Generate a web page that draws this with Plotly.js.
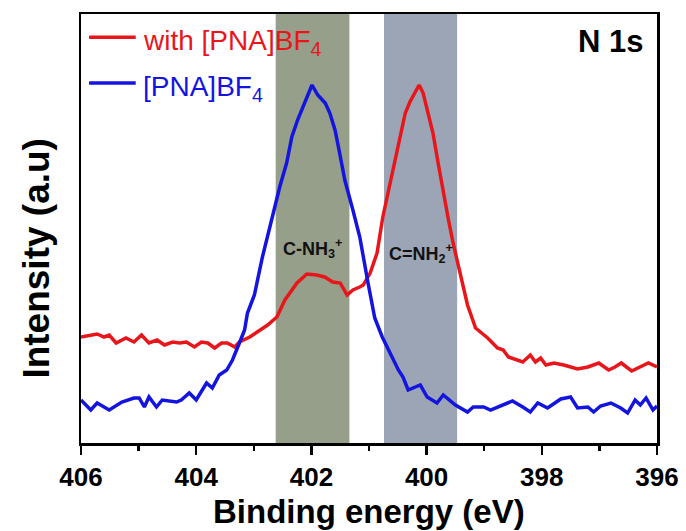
<!DOCTYPE html>
<html>
<head>
<meta charset="utf-8">
<script src="https://cdn.plot.ly/plotly-3.0.1.min.js"></script>
<style>html,body{margin:0;padding:0;background:#fff;}#chart{width:686px;height:531px;}</style>
</head>
<body>
<div id="chart"></div>
<script>
// Binding energy (eV) and intensity (a.u.)
const redEnergy = [406.00,405.90,405.72,405.60,405.51,405.39,405.22,405.08,404.95,404.82,404.68,404.55,404.41,404.29,404.17,404.03,403.91,403.80,403.68,403.56,403.46,403.33,403.25,403.07,402.90,402.76,402.60,402.46,402.25,402.08,401.91,401.77,401.63,401.50,401.38,401.28,401.16,401.10,400.98,400.86,400.76,400.63,400.55,400.46,400.37,400.29,400.20,400.13,400.06,399.97,399.89,399.80,399.71,399.62,399.54,399.41,399.29,399.15,398.94,398.77,398.67,398.58,398.33,398.20,398.11,398.02,397.93,397.79,397.62,397.38,397.20,397.01,396.84,396.73,396.62,396.44,396.29,396.15,396.00];
const redIntensity = [106,107,109,106,108,100,105,101,108,100,103,98,101,100,101,96,101,100,95,100,100,96,101,106,113,118,126,143,160,169,168,166,161,160,148,153,156,158,170,190,226,260,280,306,330,341,350,358,350,330,310,280,250,223,200,168,138,115,105,95,93,86,81,88,81,85,78,80,78,74,76,80,73,76,80,72,76,80,76];
const blueEnergy = [406.00,405.83,405.72,405.51,405.29,405.08,404.99,404.90,404.82,404.69,404.59,404.34,404.26,404.12,404.00,403.82,403.72,403.60,403.47,403.37,403.25,403.16,403.11,402.99,402.85,402.69,402.55,402.43,402.34,402.24,402.12,401.99,401.89,401.76,401.68,401.59,401.51,401.42,401.28,401.16,401.02,400.90,400.77,400.63,400.49,400.41,400.32,400.11,399.99,399.82,399.71,399.50,399.29,399.19,399.01,398.89,398.72,398.51,398.33,398.20,398.07,397.90,397.67,397.50,397.38,397.20,397.10,396.98,396.80,396.63,396.51,396.38,396.29,396.19,396.07,396.00];
const blueIntensity = [43,33,40,33,41,45,45,36,46,36,43,41,43,50,43,60,55,68,73,83,100,113,130,148,186,223,256,280,306,323,340,358,348,340,330,313,290,263,233,206,161,125,106,90,73,66,53,58,46,40,48,38,31,36,36,33,37,42,36,31,40,35,44,46,35,36,31,37,40,35,30,43,38,45,33,37];

const seriesNames = ['with [PNA]BF<sub>4</sub>', '[PNA]BF<sub>4</sub>'];
const seriesColors = ['#e8161b', '#1414e0'];
const bandStart = [402.62, 400.74];
const bandEnd = [401.34, 399.47];
const bandColors = ['#959f89', '#9ca5b5'];
const bandLabels = ['C-NH<sub>3</sub><sup>+</sup>', 'C=NH<sub>2</sub><sup>+</sup>'];
const bandLabelY = [195, 190];
const xTicks = [406, 404, 402, 400, 398, 396];
const xTitle = 'Binding energy (eV)';
const yTitle = 'Intensity (a.u)';
const panelLabel = 'N 1s';

const FONT = 'Liberation Sans, Arial, sans-serif';

const traces = [
  {x: redEnergy, y: redIntensity, type: 'scatter', mode: 'lines', name: seriesNames[0],
   line: {color: seriesColors[0], width: 3.5}, showlegend: false},
  {x: blueEnergy, y: blueIntensity, type: 'scatter', mode: 'lines', name: seriesNames[1],
   line: {color: seriesColors[1], width: 3.5}, showlegend: false}
];

const shapes = bandStart.map((s, i) => ({
  type: 'rect', xref: 'x', yref: 'paper', x0: s, x1: bandEnd[i], y0: 0, y1: 1,
  fillcolor: bandColors[i], line: {width: 0}, layer: 'below'
}));
// manual legend lines
const legY = [0.946, 0.839];
legY.forEach((y, i) => shapes.push({type: 'line', xref: 'paper', yref: 'paper',
  x0: 0.014, x1: 0.095, y0: y, y1: y, line: {color: seriesColors[i], width: 3.5}}));

const annotations = [];
bandLabels.forEach((t, i) => annotations.push({
  x: (bandStart[i] + bandEnd[i]) / 2, y: bandLabelY[i], xref: 'x', yref: 'y',
  text: t, showarrow: false, font: {family: FONT, size: 18, color: '#111', weight: 'bold'}
}));
seriesNames.forEach((t, i) => annotations.push({
  x: 0.105, y: legY[i] - 0.012, xref: 'paper', yref: 'paper', xanchor: 'left', yanchor: 'middle',
  text: t, showarrow: false, font: {family: FONT, size: 28, color: seriesColors[i]}
}));
annotations.push({x: 0.979, y: 0.937, xref: 'paper', yref: 'paper', xanchor: 'right', yanchor: 'middle',
  text: panelLabel, showarrow: false, font: {family: FONT, size: 31, color: '#000', weight: 'bold'}});
// axis titles
annotations.push({x: 0.5, y: -0.159, xref: 'paper', yref: 'paper', xanchor: 'center', yanchor: 'middle',
  text: xTitle, showarrow: false, font: {family: FONT, size: 33, color: '#000', weight: 'bold'}});
annotations.push({x: -0.078, y: 0.43, xref: 'paper', yref: 'paper', xanchor: 'center', yanchor: 'middle',
  textangle: -90, text: yTitle, showarrow: false, font: {family: FONT, size: 37, color: '#000', weight: 'bold'}});

const layout = {
  width: 686, height: 531,
  margin: {l: 81, r: 29, t: 14, b: 88},
  paper_bgcolor: '#fff', plot_bgcolor: '#fff',
  showlegend: false,
  xaxis: {
    range: [406, 396], tickvals: xTicks, ticktext: xTicks.map(String),
    ticks: 'outside', ticklen: 9, tickwidth: 2.5, tickcolor: '#000',
    minor: {dtick: 1, ticks: 'outside', ticklen: 5, tickwidth: 2.5, tickcolor: '#000'},
    showline: true, linewidth: 2.5, linecolor: '#000', mirror: true,
    showgrid: false, zeroline: false,
    tickfont: {family: FONT, size: 26, color: '#000', weight: 'bold'}
  },
  yaxis: {
    range: [0, 429], showticklabels: false, ticks: '',
    showline: true, linewidth: 2.5, linecolor: '#000', mirror: true,
    showgrid: false, zeroline: false
  },
  shapes: shapes,
  annotations: annotations
};

Plotly.newPlot('chart', traces, layout, {displayModeBar: false, staticPlot: true});
</script>
</body>
</html>
